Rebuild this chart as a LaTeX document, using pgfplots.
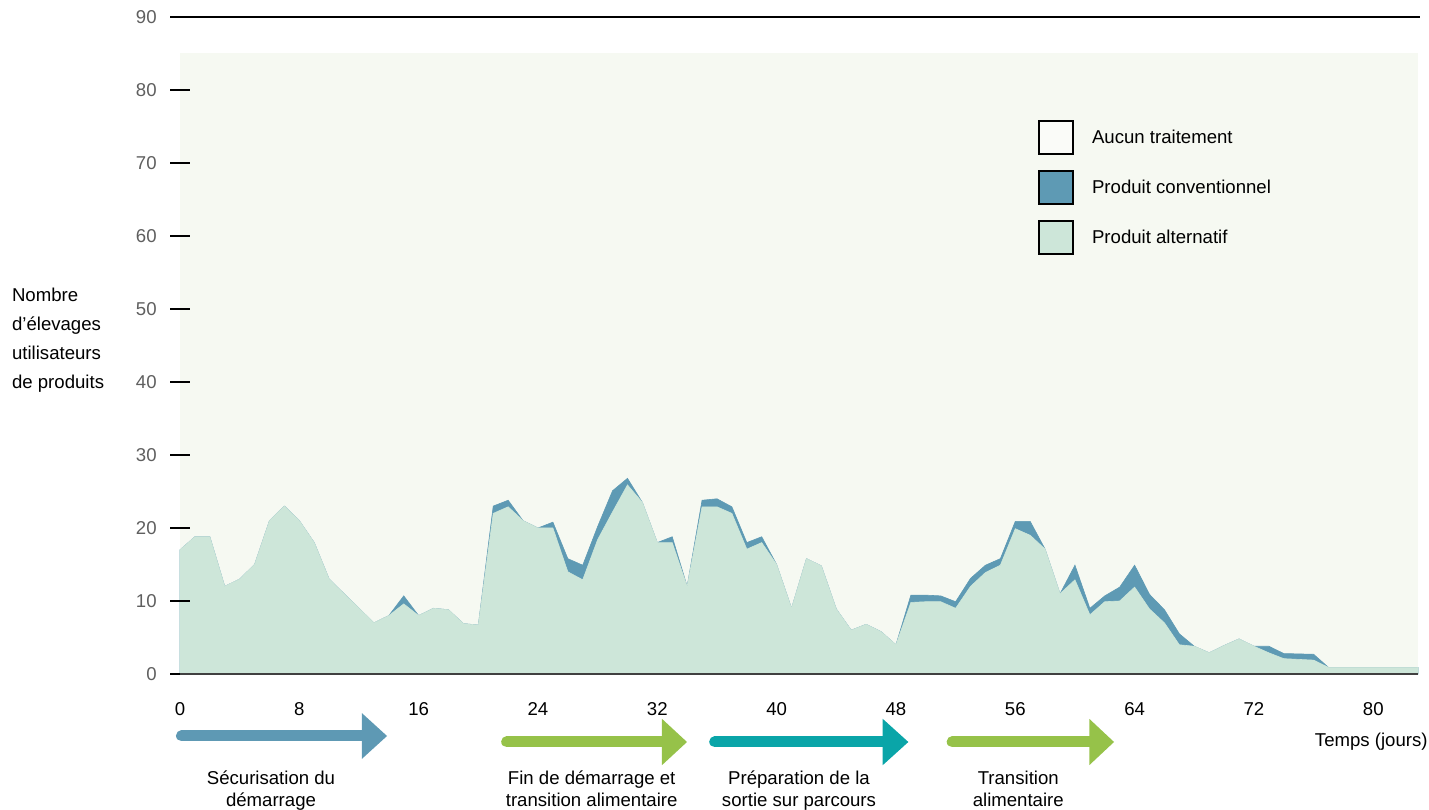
\documentclass[border=0pt]{standalone}
\usepackage{fontspec}
\setmainfont{Liberation Sans}
\usepackage{pgfplots}
\usepackage{pgfplotstable}
\pgfplotsset{compat=1.18}
\definecolor{bgc}{RGB}{246,249,242}
\definecolor{altc}{RGB}{205,230,217}
\definecolor{convc}{RGB}{94,154,180}
\definecolor{legw}{RGB}{250,251,248}
\definecolor{arrblue}{RGB}{94,153,180}
\definecolor{arrgreen}{RGB}{150,194,73}
\definecolor{arrteal}{RGB}{10,165,168}
\definecolor{tickgray}{RGB}{95,95,95}

% alt = produit alternatif ; total = alternatif + conventionnel
\pgfplotstableread[row sep=\\]{
day alt total\\
0 17 17\\
1 18.8 18.8\\
2 18.8 18.8\\
3 12 12\\
4 13 13\\
5 15 15\\
6 21 21\\
7 23 23\\
8 21 21\\
9 18 18\\
10 13 13\\
11 11 11\\
12 9 9\\
13 7 7\\
14 8 8\\
15 9.6 10.7\\
16 8 8\\
17 9 9\\
18 8.8 8.8\\
19 6.9 6.9\\
20 6.7 6.7\\
21 22 23\\
22 22.9 23.8\\
23 21 21\\
24 20 20\\
25 20 20.8\\
26 14 15.8\\
27 12.9 14.9\\
28 18.4 20.2\\
29 22.2 25.1\\
30 25.9 26.8\\
31 23.5 23.5\\
32 18 18\\
33 18 18.8\\
34 12 12\\
35 22.9 23.8\\
36 22.9 24\\
37 22 22.9\\
38 17.1 18\\
39 18 18.8\\
40 15 15\\
41 9 9\\
42 15.8 15.8\\
43 14.8 14.8\\
44 8.9 8.9\\
45 6 6\\
46 6.8 6.8\\
47 5.8 5.8\\
48 4 4\\
49 9.8 10.8\\
50 9.9 10.8\\
51 9.9 10.7\\
52 9 9.9\\
53 12 13.1\\
54 13.9 14.9\\
55 14.9 15.8\\
56 19.9 20.9\\
57 19 20.9\\
58 17.1 17.1\\
59 11 11\\
60 12.9 14.9\\
61 8.1 9\\
62 9.9 10.7\\
63 10 11.9\\
64 11.9 14.9\\
65 8.9 10.9\\
66 7 8.8\\
67 4 5.5\\
68 3.8 3.8\\
69 2.9 2.9\\
70 3.9 3.9\\
71 4.8 4.8\\
72 3.8 3.8\\
73 2.9 3.8\\
74 2.1 2.8\\
75 2 2.75\\
76 1.9 2.7\\
77 0.9 0.9\\
78 0.9 0.9\\
79 0.9 0.9\\
80 0.9 0.9\\
81 0.9 0.9\\
82 0.9 0.9\\
83 0.9 0.9\\
}\datatable

\begin{document}
\begin{tikzpicture}[font=\fontsize{9.3}{11}\selectfont]
\begin{axis}[
  name=ax,
  set layers,
  scale only axis,
  width=619pt, height=328.5pt,
  xmin=0, xmax=83, ymin=0, ymax=90,
  clip=false,
  axis on top,
  axis x line=bottom, axis y line=left,
  x axis line style={-, draw=black!75, line width=1pt},
  y axis line style={draw=none},
  xtick={0,8,...,80},
  ytick={0,10,...,90},
  major x tick style={draw=none},
  major y tick style={draw=black, line width=0.6pt},
  major tick length=10pt,
  tick align=center,
  /pgf/number format/assume math mode=true,
  xticklabel style={anchor=center, inner sep=0pt, yshift=-12.5pt, text=black},
  yticklabel style={anchor=east, inner sep=0pt, xshift=-6.5pt, text=tickgray},
  legend image code/.code={\draw[line width=1pt,#1] (0pt,-8.25pt) rectangle (17pt,8.25pt);},
  legend style={at={(axis cs:57.5,75.9)}, anchor=north west, draw=none, fill=none,
    inner sep=0pt, row sep=7.5pt, font=\fontsize{9.3}{11}\selectfont,
    nodes={inner sep=0pt, anchor=west}, column sep=9pt},
  legend cell align=left,
]
\fill[bgc, on layer=axis background] (axis cs:0,0) rectangle (axis cs:83,85);
\draw[black, line width=0.6pt] ([xshift=-5pt]axis cs:0,90) -- ([xshift=1pt]axis cs:83,90);

\addplot[fill=convc, draw=convc, line width=0.3pt, forget plot] table[x=day, y=total]{\datatable} \closedcycle;
\addplot[fill=altc, draw=altc, line width=0.3pt, forget plot] table[x=day, y=alt]{\datatable} \closedcycle;

\addlegendimage{fill=legw, draw=black}
\addlegendentry{Aucun traitement}
\addlegendimage{fill=convc, draw=black}
\addlegendentry{Produit conventionnel}
\addlegendimage{fill=altc, draw=black}
\addlegendentry{Produit alternatif}

% y label
\node[anchor=west, align=left, font=\fontsize{9.3}{14.5}\selectfont] at ([xshift=-87.5pt]axis cs:0,45.7) {Nombre\\d’élevages\\utilisateurs\\de produits};
\node[anchor=east, inner sep=0pt] at ([xshift=5pt,yshift=-34pt]axis cs:83,0) {Temps (jours)};

% phase arrows
\draw[arrblue, line width=5.5pt, line cap=round] ([yshift=-31pt]axis cs:0.1,0) -- ([yshift=-31pt]axis cs:12.3,0);
\fill[arrblue] ([yshift=-19.6pt]axis cs:12.2,0) -- ([yshift=-31pt]axis cs:13.88,0) -- ([yshift=-42.4pt]axis cs:12.2,0) -- cycle;
\draw[arrgreen, line width=5.5pt, line cap=round] ([yshift=-34pt]axis cs:21.9,0) -- ([yshift=-34pt]axis cs:32.4,0);
\fill[arrgreen] ([yshift=-22.4pt]axis cs:32.31,0) -- ([yshift=-34pt]axis cs:33.99,0) -- ([yshift=-45.6pt]axis cs:32.31,0) -- cycle;
\draw[arrteal, line width=5.5pt, line cap=round] ([yshift=-34pt]axis cs:35.85,0) -- ([yshift=-34pt]axis cs:47.2,0);
\fill[arrteal] ([yshift=-22.4pt]axis cs:47.11,0) -- ([yshift=-34pt]axis cs:48.83,0) -- ([yshift=-45.6pt]axis cs:47.11,0) -- cycle;
\draw[arrgreen, line width=5.5pt, line cap=round] ([yshift=-34pt]axis cs:51.77,0) -- ([yshift=-34pt]axis cs:61.05,0);
\fill[arrgreen] ([yshift=-22.4pt]axis cs:60.96,0) -- ([yshift=-34pt]axis cs:62.62,0) -- ([yshift=-45.6pt]axis cs:60.96,0) -- cycle;

% phase labels (base anchor = baseline of last line)
\node[anchor=base, align=center, inner sep=0pt] at ([yshift=-66.25pt]axis cs:6.1,0) {Sécurisation du\\démarrage};
\node[anchor=base, align=center, inner sep=0pt] at ([yshift=-66.25pt]axis cs:27.6,0) {Fin de démarrage et\\transition alimentaire};
\node[anchor=base, align=center, inner sep=0pt] at ([yshift=-66.25pt]axis cs:41.5,0) {Préparation de la\\sortie sur parcours};
\node[anchor=base, align=center, inner sep=0pt] at ([yshift=-66.25pt]axis cs:56.2,0) {Transition\\alimentaire};
\end{axis}
\pgfresetboundingbox
\useasboundingbox ([shift={(-90pt,-68pt)}]ax.south west) rectangle ([shift={(5.5pt,8.5pt)}]ax.north east);
\end{tikzpicture}
\end{document}
